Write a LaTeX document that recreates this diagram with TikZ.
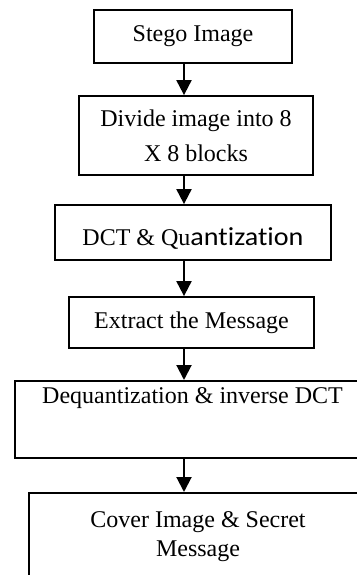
\documentclass[tikz,border=0pt]{standalone}
\usepackage{fontspec}
\setmainfont{Liberation Serif}
\newfontfamily\calibrifont[FakeStretch=1.08, Ligatures=NoCommon]{Carlito}
\usepackage{tikz}
\usetikzlibrary{arrows.meta}

\tikzset{
  stepbox/.style={draw, line width=0.9pt, inner sep=3pt,
    font=\fontsize{12}{14.5}\selectfont},
  flow/.style={line width=1pt, -{Triangle[width=7.5pt,length=7.5pt]}}
}

\begin{document}
\begin{tikzpicture}[x=0.5pt, y=-0.5pt]
  \clip (0,0) rectangle (357,575);

  % Cajas del diagrama
  \node[stepbox, minimum width=99pt, minimum height=26.5pt] (stego) at (193,36.5) {Stego Image};
  \node[stepbox, minimum width=117pt, minimum height=39.5pt, align=center] (divide) at (196,135.5)
    {Divide image into 8\\[3pt] X 8 blocks};
  \node[stepbox, minimum width=138pt, minimum height=27.5pt, text height=14pt, text depth=1.5pt] (dct) at (193,232.5)
    {DCT \& Qu{\calibrifont\fontsize{13}{15}\selectfont antization}};
  \node[stepbox, minimum width=122.5pt, minimum height=25.5pt] (extract) at (191.5,322.5) {Extract the Message};
  \node[stepbox, minimum width=177.5pt, text height=8.5pt, text depth=24pt, anchor=north] (dequant) at (192.5,380)
    {Dequantization \& inverse DCT};
  \node[stepbox, minimum width=169pt, text height=14.5pt, text depth=38.5pt, anchor=north] (cover) at (198,492)
    {\begin{tabular}[t]{@{}c@{}}Cover Image \& Secret\\ Message\end{tabular}};

  % Flechas
  \coordinate (spine) at (184,0);
  \foreach \a/\b in {stego/divide, divide/dct, dct/extract, extract/dequant, dequant/cover}{
    \draw[flow] (\a.south -| spine) -- (\b.north -| spine);
  }
\end{tikzpicture}
\end{document}
